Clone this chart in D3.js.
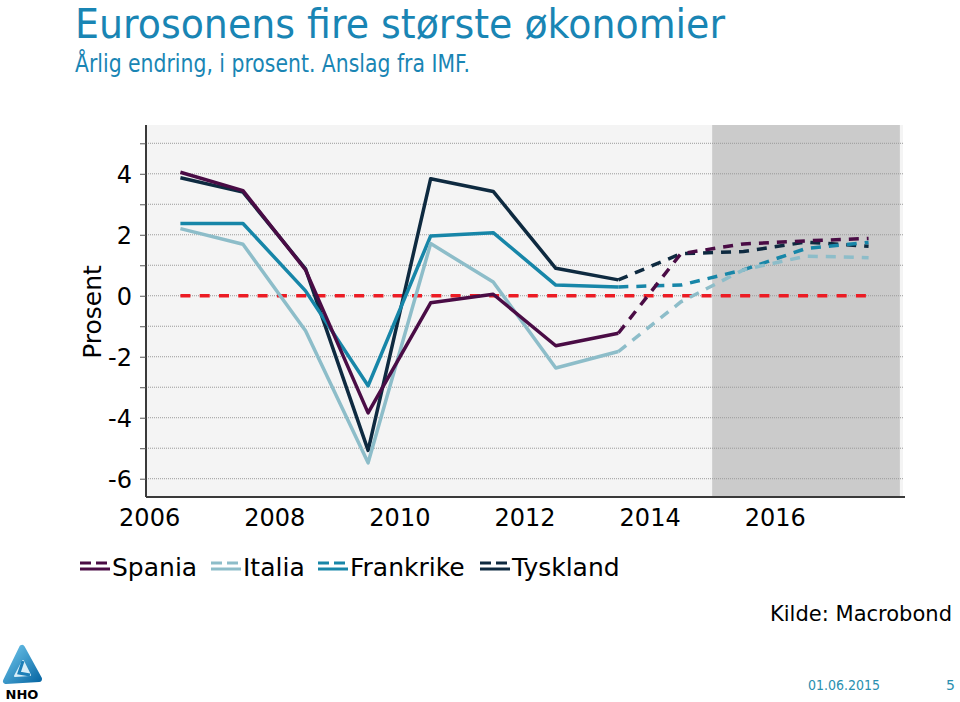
<!DOCTYPE html>
<html>
<head>
<meta charset="utf-8">
<script src="https://d3js.org/d3.v7.min.js"></script>
<style>
  body { margin: 0; background: #fff; }
  svg { display: block; }
  text { font-family: "DejaVu Sans", Verdana, sans-serif; }
</style>
</head>
<body>
<script>
// Data
var years = [2006, 2007, 2008, 2009, 2010, 2011, 2012, 2013, 2014, 2015, 2016, 2017];
var lastActual = 2013;
var spania    = [4.05, 3.45, 0.85, -3.84, -0.23, 0.05, -1.64, -1.23, 1.38, 1.70, 1.80, 1.88];
var italia    = [2.20, 1.69, -1.15, -5.48, 1.71, 0.45, -2.37, -1.83, -0.20, 0.85, 1.30, 1.25];
var frankrike = [2.37, 2.37, 0.16, -2.95, 1.96, 2.07, 0.35, 0.29, 0.35, 0.85, 1.55, 1.75];
var tyskland  = [3.87, 3.40, 0.88, -5.07, 3.84, 3.42, 0.90, 0.52, 1.38, 1.45, 1.76, 1.62];
var seriesNames = ["Spania", "Italia", "Frankrike", "Tyskland"];
var seriesColors = ["#4a0c45", "#8dbdc9", "#1786a8", "#0e2a40"];
var yTicks = [-6, -5, -4, -3, -2, -1, 0, 1, 2, 3, 4, 5];
var yLabels = [-6, -4, -2, 0, 2, 4];
var xLabels = [2006, 2008, 2010, 2012, 2014, 2016];
var forecastBand = [2015, 2018];

var w = 960, h = 702;
var svg = d3.select("body").append("svg").attr("width", w).attr("height", h);

var x = d3.scaleLinear().domain([2005.95, 2018.05]).range([146, 903]);
var y = d3.scaleLinear().domain([-6.6, 5.6]).range([497, 125]);

// titles
svg.append("text").attr("x", 75).attr("y", 38)
  .attr("font-size", 40).attr("fill", "#1985b4")
  .attr("textLength", 650).attr("lengthAdjust", "spacingAndGlyphs")
  .text("Eurosonens fire største økonomier");
svg.append("text").attr("x", 75).attr("y", 72)
  .attr("font-size", 24).attr("fill", "#1985b4")
  .attr("textLength", 395).attr("lengthAdjust", "spacingAndGlyphs")
  .text("Årlig endring, i prosent. Anslag fra IMF.");

// plot background + forecast band
svg.append("rect")
  .attr("x", x.range()[0]).attr("y", y.range()[1])
  .attr("width", x.range()[1] - x.range()[0]).attr("height", y.range()[0] - y.range()[1])
  .attr("fill", "#f4f4f4");
svg.append("rect")
  .attr("x", x(forecastBand[0])).attr("y", y.range()[1])
  .attr("width", x(forecastBand[1]) - x(forecastBand[0])).attr("height", y.range()[0] - y.range()[1])
  .attr("fill", "#cbcbcb");

// grid
svg.append("g").selectAll("line").data(yTicks).enter().append("line")
  .attr("x1", x.range()[0]).attr("x2", x.range()[1])
  .attr("y1", function(d) { return y(d); }).attr("y2", function(d) { return y(d); })
  .attr("stroke", "#9a9a9a").attr("stroke-width", 1).attr("stroke-dasharray", "1,1");

// y axis
var yAxis = svg.append("g")
  .attr("transform", "translate(" + x.range()[0] + ",0)")
  .call(d3.axisLeft(y).tickValues(yTicks).tickSize(6).tickPadding(8)
    .tickFormat(function(d) { return yLabels.indexOf(d) >= 0 ? d : ""; }));
yAxis.select(".domain").attr("stroke", "#3a3a3a").attr("stroke-width", 2).attr("d", "M0," + y.range()[1] + "V" + y.range()[0]);
yAxis.selectAll(".tick line").attr("stroke", "#555");
yAxis.selectAll(".tick text").attr("font-size", 24).attr("fill", "#000")
  .attr("font-family", "DejaVu Sans, Verdana, sans-serif").attr("dy", "0.36em");

// x axis
var xAxis = svg.append("g")
  .attr("transform", "translate(0," + y.range()[0] + ")")
  .call(d3.axisBottom(x).tickValues(xLabels).tickSize(0).tickPadding(12).tickFormat(d3.format("d")));
xAxis.select(".domain").attr("stroke", "#3a3a3a").attr("stroke-width", 2)
  .attr("d", "M" + x.range()[0] + ",0H" + (x.range()[1] + 2));
xAxis.selectAll(".tick text").attr("font-size", 24).attr("fill", "#000")
  .attr("font-family", "DejaVu Sans, Verdana, sans-serif");

// y title
svg.append("text")
  .attr("transform", "translate(101,312) rotate(-90)")
  .attr("text-anchor", "middle").attr("font-size", 25).attr("fill", "#000")
  .text("Prosent");

// zero reference line
svg.append("line")
  .attr("x1", x(years[0] + 0.5)).attr("x2", x(years[years.length - 1] + 0.5))
  .attr("y1", y(0)).attr("y2", y(0))
  .attr("stroke", "#ec1c24").attr("stroke-width", 3.5).attr("stroke-dasharray", "10,9.3");

// series
var allSeries = [spania, italia, frankrike, tyskland];
var line = d3.line()
  .x(function(d) { return x(d.year + 0.5); })
  .y(function(d) { return y(d.value); });

for (var s = allSeries.length - 1; s >= 0; s--) {
  var pts = years.map(function(yr, i) { return { year: yr, value: allSeries[s][i] }; });
  var actual = pts.filter(function(d) { return d.year <= lastActual; });
  var forecast = pts.filter(function(d) { return d.year >= lastActual; });
  svg.append("path").datum(forecast)
    .attr("fill", "none").attr("stroke", seriesColors[s]).attr("stroke-width", 3.5)
    .attr("stroke-dasharray", "10,8").attr("d", line);
  svg.append("path").datum(actual)
    .attr("fill", "none").attr("stroke", seriesColors[s]).attr("stroke-width", 3.5)
    .attr("stroke-linejoin", "round").attr("d", line);
}

// legend
var legendX = [80, 211, 318, 480];
var lg = svg.append("g");
seriesNames.forEach(function(name, i) {
  var g = lg.append("g").attr("transform", "translate(" + legendX[i] + ",0)");
  g.append("line").attr("x1", 0).attr("x2", 30).attr("y1", 563).attr("y2", 563)
    .attr("stroke", seriesColors[i]).attr("stroke-width", 3).attr("stroke-dasharray", "11,5");
  g.append("line").attr("x1", 0).attr("x2", 30).attr("y1", 569).attr("y2", 569)
    .attr("stroke", seriesColors[i]).attr("stroke-width", 3);
  g.append("text").attr("x", 32).attr("y", 576).attr("font-size", 25).attr("fill", "#000")
    .text(name);
});

// source
svg.append("text").attr("x", 952).attr("y", 621).attr("text-anchor", "end")
  .attr("font-size", 22).attr("fill", "#000")
  .attr("textLength", 182).attr("lengthAdjust", "spacingAndGlyphs")
  .text("Kilde: Macrobond");

// footer
svg.append("text").attr("x", 808).attr("y", 690).attr("font-size", 14).attr("fill", "#2a8fb0")
  .attr("textLength", 72).attr("lengthAdjust", "spacingAndGlyphs").text("01.06.2015");
svg.append("text").attr("x", 955).attr("y", 690).attr("text-anchor", "end")
  .attr("font-size", 14).attr("fill", "#2a8fb0").text("5");

// logo
var defs = svg.append("defs");
var gr = defs.append("linearGradient").attr("id", "nhoGrad")
  .attr("x1", "0").attr("y1", "0").attr("x2", "1").attr("y2", "1");
gr.append("stop").attr("offset", "0").attr("stop-color", "#6cc4ea");
gr.append("stop").attr("offset", "1").attr("stop-color", "#0b6aa6");
var logo = svg.append("g");
logo.append("path")
  .attr("d", "M22,648 L6,681 L39,679 Z")
  .attr("fill", "url(#nhoGrad)").attr("stroke", "url(#nhoGrad)")
  .attr("stroke-width", 6).attr("stroke-linejoin", "round");
logo.append("path")
  .attr("d", "M23,661 L15,676 L30,675 Z")
  .attr("fill", "#d8eef8").attr("stroke", "#d8eef8").attr("stroke-width", 2).attr("stroke-linejoin", "round");
logo.append("path")
  .attr("d", "M23,661 L19,673 L30,675")
  .attr("fill", "none").attr("stroke", "#1c7fb8").attr("stroke-width", 3);
logo.append("text").attr("x", 22).attr("y", 699).attr("text-anchor", "middle")
  .attr("font-size", 13).attr("font-weight", "bold").attr("fill", "#000")
  .attr("font-family", "Liberation Sans, Arial, sans-serif").text("NHO");
</script>
</body>
</html>
